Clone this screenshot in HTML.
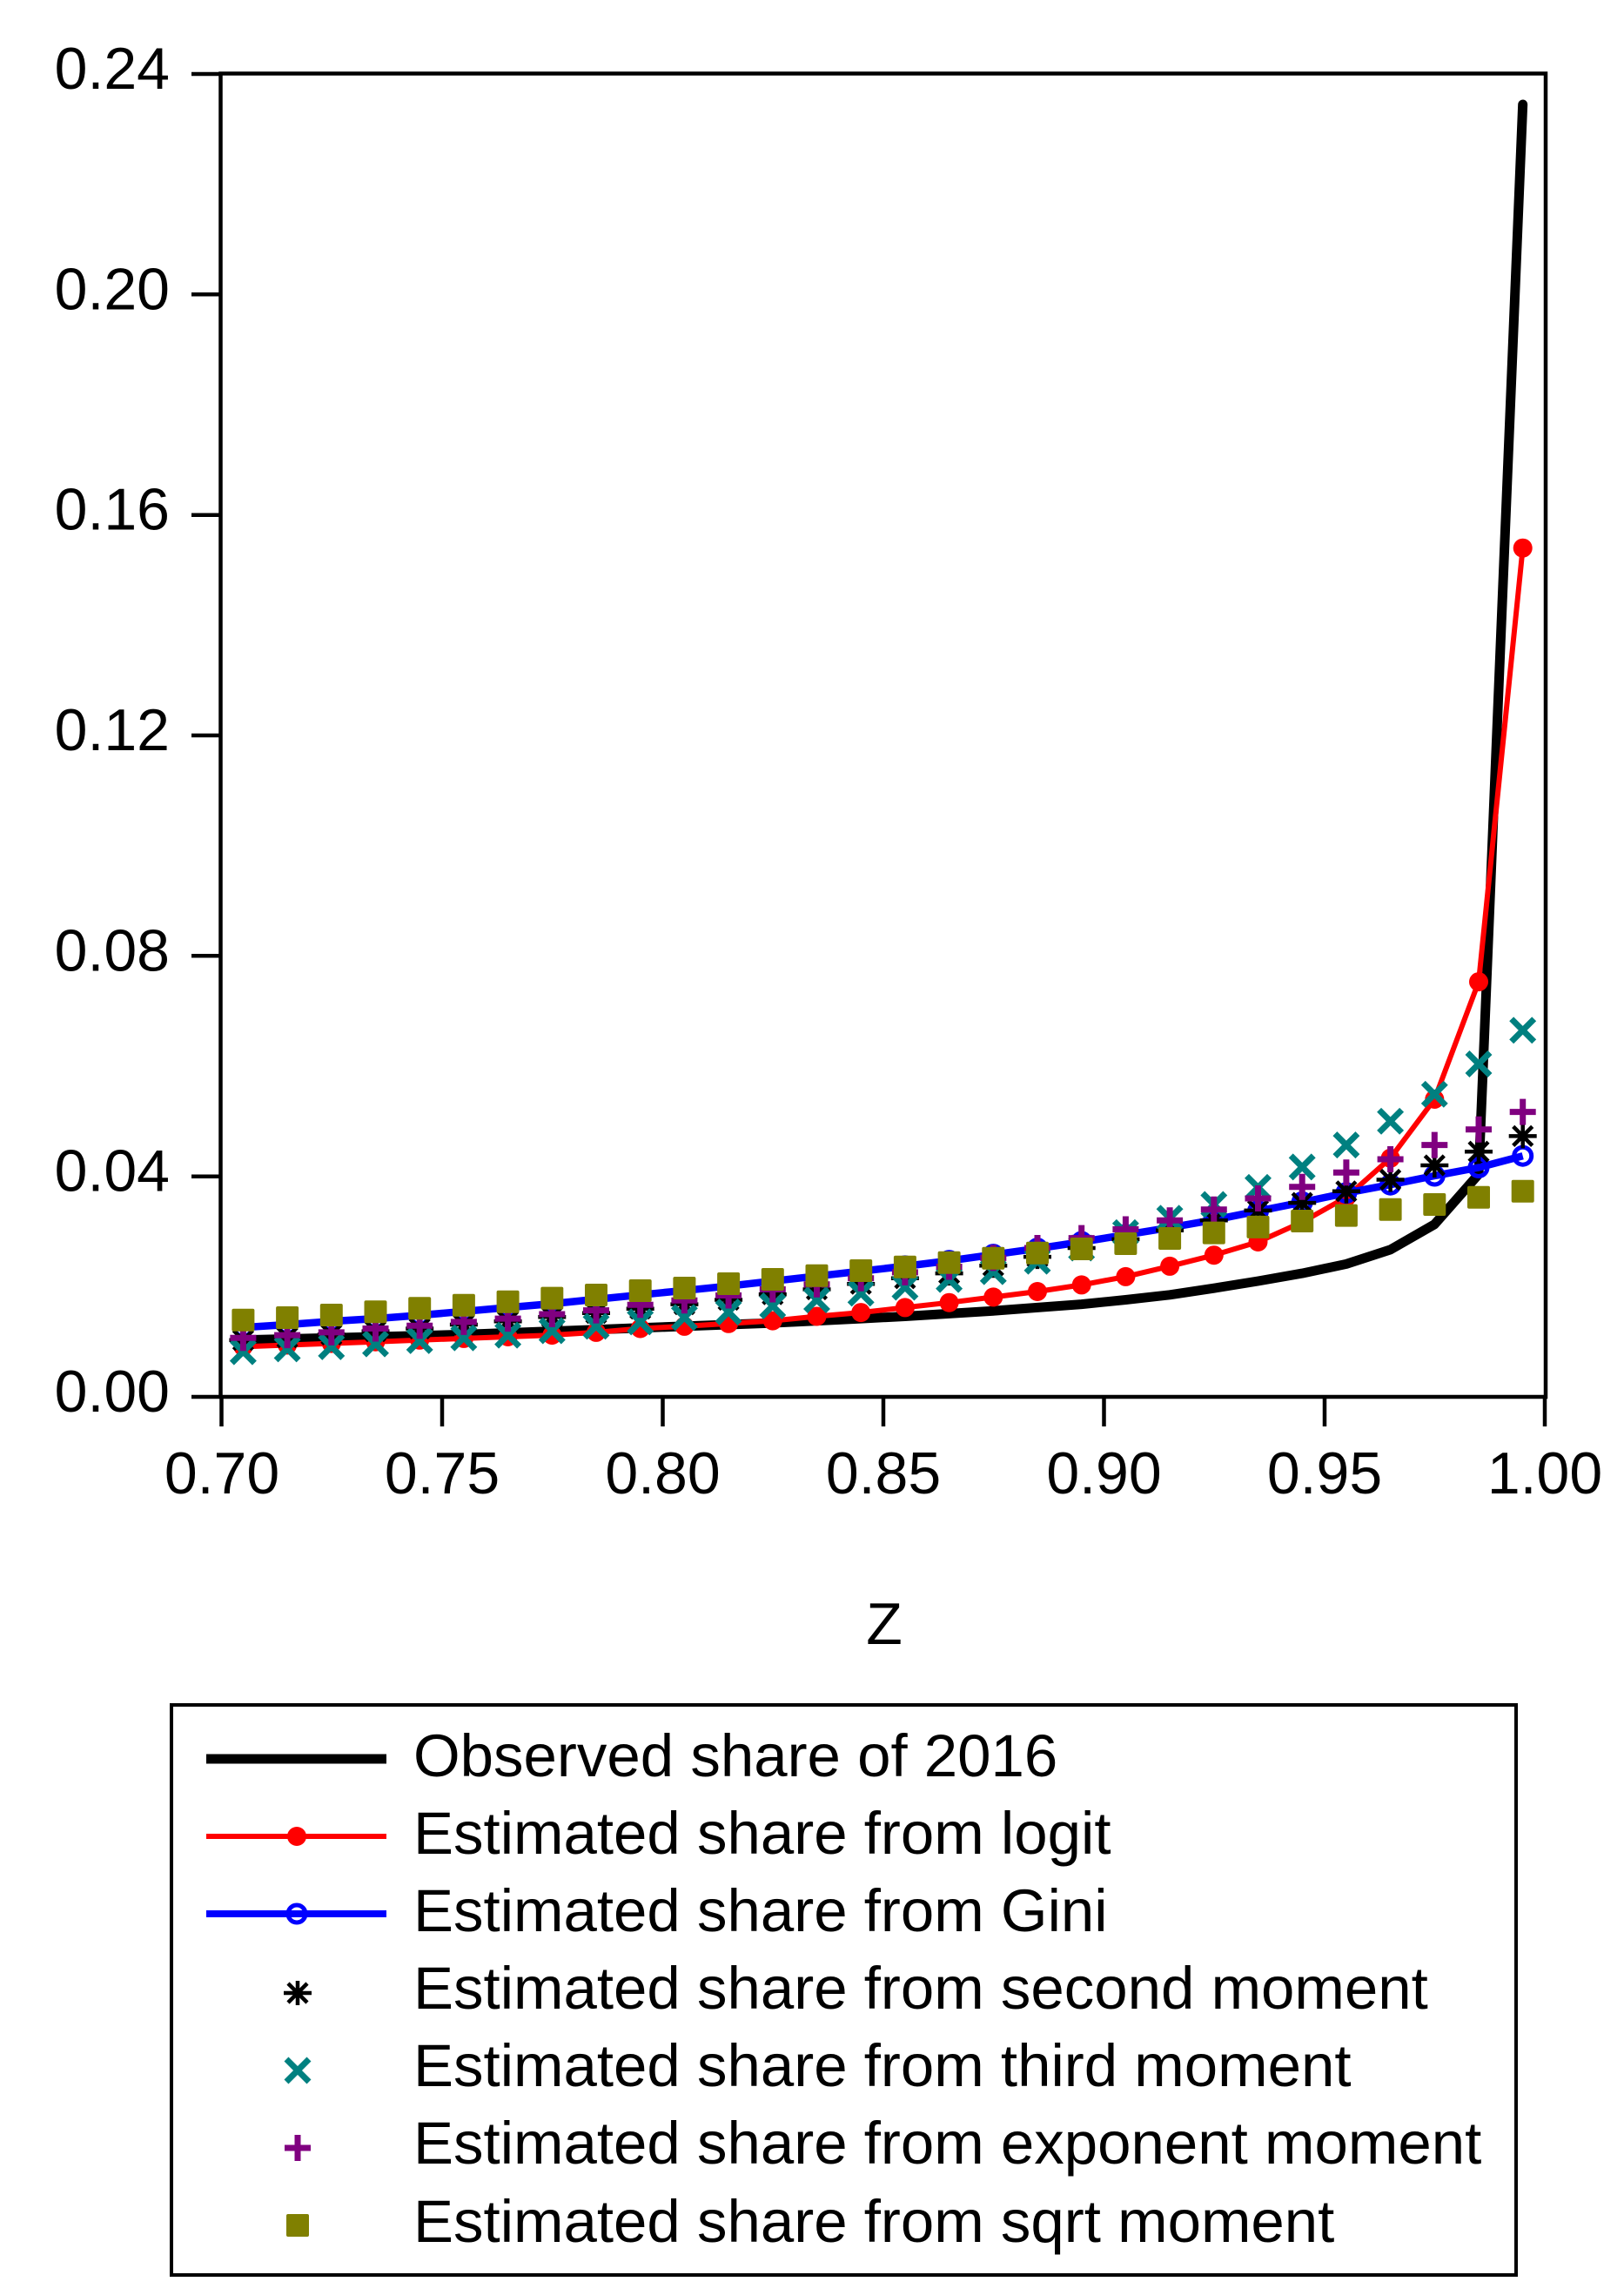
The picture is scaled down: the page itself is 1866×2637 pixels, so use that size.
<!DOCTYPE html>
<html>
<head>
<meta charset="utf-8">
<style>
html,body{margin:0;padding:0;background:#fff;}
svg{display:block;}
text{font-family:"Liberation Sans",Arial,sans-serif;fill:#000;}
</style>
</head>
<body>
<svg width="1866" height="2637" viewBox="0 0 1866 2637" xmlns="http://www.w3.org/2000/svg">
<defs>
<g id="dot"><circle r="11" fill="#ff0000"/></g>
<g id="circ"><circle r="10" fill="none" stroke="#0000ff" stroke-width="5"/></g>
<g id="ast" stroke="#000" stroke-width="4.5" fill="none"><path d="M-16 0H16M0-14V14M-11-11L11 11M-11 11L11-11"/></g>
<g id="xm" stroke="#008080" stroke-width="7" fill="none"><path d="M-13-13L13 13M-13 13L13-13"/></g>
<g id="pl" stroke="#800080" stroke-width="7" fill="none"><path d="M-15 0H15M0-15V15"/></g>
<g id="sq"><rect x="-13" y="-13" width="26" height="26" rx="2" fill="#808000"/></g>
</defs>

<!-- frame -->
<rect x="253.5" y="84.5" width="1522.5" height="1520.5" fill="none" stroke="#000" stroke-width="4.5"/>

<!-- y ticks -->
<g stroke="#000" stroke-width="4.5">
<line x1="220" y1="85" x2="254" y2="85"/>
<line x1="220" y1="338.3" x2="254" y2="338.3"/>
<line x1="220" y1="591.7" x2="254" y2="591.7"/>
<line x1="220" y1="845" x2="254" y2="845"/>
<line x1="220" y1="1098.3" x2="254" y2="1098.3"/>
<line x1="220" y1="1351.7" x2="254" y2="1351.7"/>
<line x1="220" y1="1605" x2="254" y2="1605"/>
<!-- x ticks -->
<line x1="254.5" y1="1605" x2="254.5" y2="1639"/>
<line x1="508" y1="1605" x2="508" y2="1639"/>
<line x1="761.5" y1="1605" x2="761.5" y2="1639"/>
<line x1="1015" y1="1605" x2="1015" y2="1639"/>
<line x1="1268.5" y1="1605" x2="1268.5" y2="1639"/>
<line x1="1522" y1="1605" x2="1522" y2="1639"/>
<line x1="1775" y1="1605" x2="1775" y2="1639"/>
</g>

<g font-size="68" text-anchor="end">
<text x="195" y="102">0.24</text>
<text x="195" y="355.3">0.20</text>
<text x="195" y="608.7">0.16</text>
<text x="195" y="862">0.12</text>
<text x="195" y="1115.3">0.08</text>
<text x="195" y="1368.7">0.04</text>
<text x="195" y="1622">0.00</text>
</g>
<g font-size="68" text-anchor="middle">
<text x="255" y="1716">0.70</text>
<text x="508" y="1716">0.75</text>
<text x="761.5" y="1716">0.80</text>
<text x="1015" y="1716">0.85</text>
<text x="1268.5" y="1716">0.90</text>
<text x="1522" y="1716">0.95</text>
<text x="1775" y="1716">1.00</text>
<text x="1016" y="1889">Z</text>
</g>

<!-- observed -->
<polyline fill="none" stroke="#000" stroke-width="11" stroke-linejoin="round" stroke-linecap="round" points="279.4,1539.8 330.1,1538.5 380.8,1537.2 431.5,1536.0 482.2,1534.7 532.9,1533.4 583.6,1531.5 634.3,1529.6 685.0,1527.7 735.7,1525.8 786.4,1523.9 837.1,1522.0 887.8,1520.1 938.5,1517.6 989.2,1515.1 1039.9,1512.5 1090.6,1509.4 1141.3,1506.2 1192.0,1502.4 1242.7,1498.6 1293.4,1493.5 1344.1,1487.8 1394.8,1480.2 1445.5,1472.0 1496.2,1463.1 1546.9,1452.4 1597.6,1435.9 1648.3,1406.8 1699.0,1349.1 1749.7,120"/>

<!-- logit -->
<polyline fill="none" stroke="#ff0000" stroke-width="6" stroke-linejoin="round" points="279.4,1547.4 330.1,1545.5 380.8,1543.6 431.5,1541.7 482.2,1539.8 532.9,1537.9 583.6,1536.0 634.3,1534.1 685.0,1530.9 735.7,1526.5 786.4,1523.9 837.1,1520.8 887.8,1517.6 938.5,1512.5 989.2,1508.1 1039.9,1502.4 1090.6,1496.7 1141.3,1490.4 1192.0,1484.0 1242.7,1476.4 1293.4,1466.9 1344.1,1454.9 1394.8,1442.2 1445.5,1427.0 1496.2,1404.2 1546.9,1375.7 1597.6,1330.8 1648.3,1263.0 1699.0,1128.1 1749.7,629.7"/>
<g>
<use href="#dot" x="279.4" y="1547.4"/><use href="#dot" x="330.1" y="1545.5"/><use href="#dot" x="380.8" y="1543.6"/><use href="#dot" x="431.5" y="1541.7"/><use href="#dot" x="482.2" y="1539.8"/><use href="#dot" x="532.9" y="1537.9"/><use href="#dot" x="583.6" y="1536.0"/><use href="#dot" x="634.3" y="1534.1"/><use href="#dot" x="685.0" y="1530.9"/><use href="#dot" x="735.7" y="1526.5"/><use href="#dot" x="786.4" y="1523.9"/><use href="#dot" x="837.1" y="1520.8"/><use href="#dot" x="887.8" y="1517.6"/><use href="#dot" x="938.5" y="1512.5"/><use href="#dot" x="989.2" y="1508.1"/><use href="#dot" x="1039.9" y="1502.4"/><use href="#dot" x="1090.6" y="1496.7"/><use href="#dot" x="1141.3" y="1490.4"/><use href="#dot" x="1192.0" y="1484.0"/><use href="#dot" x="1242.7" y="1476.4"/><use href="#dot" x="1293.4" y="1466.9"/><use href="#dot" x="1344.1" y="1454.9"/><use href="#dot" x="1394.8" y="1442.2"/><use href="#dot" x="1445.5" y="1427.0"/><use href="#dot" x="1496.2" y="1404.2"/><use href="#dot" x="1546.9" y="1375.7"/><use href="#dot" x="1597.6" y="1330.8"/><use href="#dot" x="1648.3" y="1263.0"/><use href="#dot" x="1699.0" y="1128.1"/><use href="#dot" x="1749.7" y="629.7"/>
</g>

<!-- gini -->
<polyline fill="none" stroke="#0000ff" stroke-width="8.5" stroke-linejoin="round" points="279.4,1525.2 330.1,1522.0 380.8,1518.2 431.5,1515.1 482.2,1511.3 532.9,1506.8 583.6,1502.4 634.3,1498.0 685.0,1492.9 735.7,1487.8 786.4,1482.8 837.1,1477.7 887.8,1472.0 938.5,1466.3 989.2,1460.6 1039.9,1454.9 1090.6,1448.6 1141.3,1441.6 1192.0,1434.6 1242.7,1427.0 1293.4,1418.8 1344.1,1410.6 1394.8,1401.7 1445.5,1391.6 1496.2,1381.4 1546.9,1370.7 1597.6,1361.2 1648.3,1351.0 1699.0,1341.5 1749.7,1328.2"/>
<g>
<use href="#circ" x="279.4" y="1525.2"/><use href="#circ" x="330.1" y="1522.0"/><use href="#circ" x="380.8" y="1518.2"/><use href="#circ" x="431.5" y="1515.1"/><use href="#circ" x="482.2" y="1511.3"/><use href="#circ" x="532.9" y="1506.8"/><use href="#circ" x="583.6" y="1502.4"/><use href="#circ" x="634.3" y="1498.0"/><use href="#circ" x="685.0" y="1492.9"/><use href="#circ" x="735.7" y="1487.8"/><use href="#circ" x="786.4" y="1482.8"/><use href="#circ" x="837.1" y="1477.7"/><use href="#circ" x="887.8" y="1472.0"/><use href="#circ" x="938.5" y="1466.3"/><use href="#circ" x="989.2" y="1460.6"/><use href="#circ" x="1039.9" y="1454.9"/><use href="#circ" x="1090.6" y="1448.6"/><use href="#circ" x="1141.3" y="1441.6"/><use href="#circ" x="1192.0" y="1434.6"/><use href="#circ" x="1242.7" y="1427.0"/><use href="#circ" x="1293.4" y="1418.8"/><use href="#circ" x="1344.1" y="1410.6"/><use href="#circ" x="1394.8" y="1401.7"/><use href="#circ" x="1445.5" y="1391.6"/><use href="#circ" x="1496.2" y="1381.4"/><use href="#circ" x="1546.9" y="1370.7"/><use href="#circ" x="1597.6" y="1361.2"/><use href="#circ" x="1648.3" y="1351.0"/><use href="#circ" x="1699.0" y="1341.5"/><use href="#circ" x="1749.7" y="1328.2"/>
</g>

<!-- second moment -->
<g>
<use href="#ast" x="279.4" y="1539.8"/><use href="#ast" x="330.1" y="1536.6"/><use href="#ast" x="380.8" y="1533.4"/><use href="#ast" x="431.5" y="1529.6"/><use href="#ast" x="482.2" y="1526.5"/><use href="#ast" x="532.9" y="1522.0"/><use href="#ast" x="583.6" y="1518.2"/><use href="#ast" x="634.3" y="1513.2"/><use href="#ast" x="685.0" y="1508.7"/><use href="#ast" x="735.7" y="1503.7"/><use href="#ast" x="786.4" y="1498.6"/><use href="#ast" x="837.1" y="1493.5"/><use href="#ast" x="887.8" y="1487.2"/><use href="#ast" x="938.5" y="1481.5"/><use href="#ast" x="989.2" y="1475.2"/><use href="#ast" x="1039.9" y="1468.8"/><use href="#ast" x="1090.6" y="1463.1"/><use href="#ast" x="1141.3" y="1454.3"/><use href="#ast" x="1192.0" y="1444.1"/><use href="#ast" x="1242.7" y="1434.0"/><use href="#ast" x="1293.4" y="1423.9"/><use href="#ast" x="1344.1" y="1413.7"/><use href="#ast" x="1394.8" y="1402.3"/><use href="#ast" x="1445.5" y="1390.9"/><use href="#ast" x="1496.2" y="1382.1"/><use href="#ast" x="1546.9" y="1368.8"/><use href="#ast" x="1597.6" y="1355.5"/><use href="#ast" x="1648.3" y="1339.0"/><use href="#ast" x="1699.0" y="1323.2"/><use href="#ast" x="1749.7" y="1305.4"/>
</g>

<!-- third moment -->
<g>
<use href="#xm" x="279.4" y="1553.1"/><use href="#xm" x="330.1" y="1549.9"/><use href="#xm" x="380.8" y="1547.4"/><use href="#xm" x="431.5" y="1544.2"/><use href="#xm" x="482.2" y="1540.4"/><use href="#xm" x="532.9" y="1537.2"/><use href="#xm" x="583.6" y="1534.1"/><use href="#xm" x="634.3" y="1529.0"/><use href="#xm" x="685.0" y="1523.9"/><use href="#xm" x="735.7" y="1518.9"/><use href="#xm" x="786.4" y="1513.8"/><use href="#xm" x="837.1" y="1507.5"/><use href="#xm" x="887.8" y="1500.5"/><use href="#xm" x="938.5" y="1493.5"/><use href="#xm" x="989.2" y="1485.9"/><use href="#xm" x="1039.9" y="1479.0"/><use href="#xm" x="1090.6" y="1470.1"/><use href="#xm" x="1141.3" y="1461.2"/><use href="#xm" x="1192.0" y="1449.2"/><use href="#xm" x="1242.7" y="1434.0"/><use href="#xm" x="1293.4" y="1416.3"/><use href="#xm" x="1344.1" y="1399.8"/><use href="#xm" x="1394.8" y="1384.0"/><use href="#xm" x="1445.5" y="1364.3"/><use href="#xm" x="1496.2" y="1340.9"/><use href="#xm" x="1546.9" y="1315.6"/><use href="#xm" x="1597.6" y="1288.3"/><use href="#xm" x="1648.3" y="1257.3"/><use href="#xm" x="1699.0" y="1222.5"/><use href="#xm" x="1749.7" y="1183.8"/>
</g>

<!-- exponent moment -->
<g>
<use href="#pl" x="279.4" y="1537.2"/><use href="#pl" x="330.1" y="1534.1"/><use href="#pl" x="380.8" y="1530.9"/><use href="#pl" x="431.5" y="1526.5"/><use href="#pl" x="482.2" y="1523.3"/><use href="#pl" x="532.9" y="1518.9"/><use href="#pl" x="583.6" y="1515.1"/><use href="#pl" x="634.3" y="1510.0"/><use href="#pl" x="685.0" y="1505.6"/><use href="#pl" x="735.7" y="1499.2"/><use href="#pl" x="786.4" y="1494.2"/><use href="#pl" x="837.1" y="1488.5"/><use href="#pl" x="887.8" y="1481.5"/><use href="#pl" x="938.5" y="1475.8"/><use href="#pl" x="989.2" y="1468.8"/><use href="#pl" x="1039.9" y="1461.9"/><use href="#pl" x="1090.6" y="1455.5"/><use href="#pl" x="1141.3" y="1445.4"/><use href="#pl" x="1192.0" y="1434.0"/><use href="#pl" x="1242.7" y="1422.6"/><use href="#pl" x="1293.4" y="1412.5"/><use href="#pl" x="1344.1" y="1402.3"/><use href="#pl" x="1394.8" y="1389.7"/><use href="#pl" x="1445.5" y="1377.0"/><use href="#pl" x="1496.2" y="1363.7"/><use href="#pl" x="1546.9" y="1347.2"/><use href="#pl" x="1597.6" y="1332.0"/><use href="#pl" x="1648.3" y="1315.6"/><use href="#pl" x="1699.0" y="1297.8"/><use href="#pl" x="1749.7" y="1277.6"/>
</g>

<!-- sqrt moment -->
<g>
<use href="#sq" x="279.4" y="1516.7"/><use href="#sq" x="330.1" y="1514.0"/><use href="#sq" x="380.8" y="1511.0"/><use href="#sq" x="431.5" y="1507.3"/><use href="#sq" x="482.2" y="1503.3"/><use href="#sq" x="532.9" y="1499.7"/><use href="#sq" x="583.6" y="1495.7"/><use href="#sq" x="634.3" y="1491.6"/><use href="#sq" x="685.0" y="1488.0"/><use href="#sq" x="735.7" y="1483.0"/><use href="#sq" x="786.4" y="1480.0"/><use href="#sq" x="837.1" y="1475.0"/><use href="#sq" x="887.8" y="1470.0"/><use href="#sq" x="938.5" y="1465.7"/><use href="#sq" x="989.2" y="1460.0"/><use href="#sq" x="1039.9" y="1455.7"/><use href="#sq" x="1090.6" y="1450.7"/><use href="#sq" x="1141.3" y="1445.7"/><use href="#sq" x="1192.0" y="1439.7"/><use href="#sq" x="1242.7" y="1435.0"/><use href="#sq" x="1293.4" y="1429.0"/><use href="#sq" x="1344.1" y="1423.0"/><use href="#sq" x="1394.8" y="1416.6"/><use href="#sq" x="1445.5" y="1409.9"/><use href="#sq" x="1496.2" y="1403.0"/><use href="#sq" x="1546.9" y="1396.6"/><use href="#sq" x="1597.6" y="1389.7"/><use href="#sq" x="1648.3" y="1384.0"/><use href="#sq" x="1699.0" y="1375.7"/><use href="#sq" x="1749.7" y="1368.8"/>
</g>

<!-- legend -->
<rect x="197" y="1959" width="1545" height="655" fill="none" stroke="#000" stroke-width="4"/>
<line x1="237" y1="2021" x2="444" y2="2021" stroke="#000" stroke-width="11"/>
<line x1="237" y1="2110" x2="444" y2="2110" stroke="#ff0000" stroke-width="6"/>
<use href="#dot" x="341" y="2110"/>
<line x1="237" y1="2199" x2="444" y2="2199" stroke="#0000ff" stroke-width="8"/>
<use href="#circ" x="341" y="2199"/>
<use href="#ast" x="342" y="2290"/>
<use href="#xm" x="342" y="2379"/>
<use href="#pl" x="342" y="2468"/>
<use href="#sq" x="342" y="2557"/>
<g font-size="69">
<text x="475" y="2041">Observed share of 2016</text>
<text x="475" y="2130">Estimated share from logit</text>
<text x="475" y="2219">Estimated share from Gini</text>
<text x="475" y="2308">Estimated share from second moment</text>
<text x="475" y="2397">Estimated share from third moment</text>
<text x="475" y="2486">Estimated share from exponent moment</text>
<text x="475" y="2576">Estimated share from sqrt moment</text>
</g>
</svg>
</body>
</html>
